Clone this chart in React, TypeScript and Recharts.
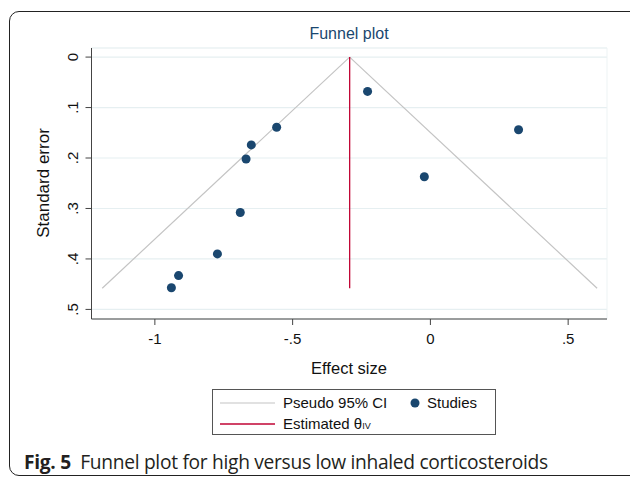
import React from 'react';
import { ScatterChart, Scatter, XAxis, YAxis, CartesianGrid, ReferenceLine, ReferenceArea } from 'recharts';

// study estimates (effect size, standard error)
const effectSizes = [-0.228, 0.32, -0.022, -0.558, -0.65, -0.669, -0.69, -0.773, -0.914, -0.94];
const standardErrors = [0.068, 0.144, 0.237, 0.139, 0.174, 0.202, 0.308, 0.39, 0.433, 0.457];

// pooled estimate and funnel limits
const thetaIV = -0.293;
const seMax = 0.458;
const funnelLeft = [{ x: -1.191, y: seMax }, { x: thetaIV, y: 0 }];
const funnelRight = [{ x: thetaIV, y: 0 }, { x: 0.605, y: seMax }];

const xTicks = [-1, -0.5, 0, 0.5];
const yTicks = [0, 0.1, 0.2, 0.3, 0.4, 0.5];
const xDomain = [-1.23, 0.641];
const yDomain = [-0.018, 0.519];

const studies = effectSizes.map((x, i) => ({ x, y: standardErrors[i] }));

const NAVY = '#1a476f';
const CRANBERRY = '#c10534';
const CI_GRAY = '#c4c4c4';
const FONT = '"Liberation Sans", Arial, sans-serif';

// stata style labels: .5 instead of 0.5
const fmt = (v: number) => (v === 0 ? '0' : String(v).replace(/^(-?)0\./, '$1.'));

const YTick = ({ x, y, payload }: any) => {
  const cx = x - 11;
  return (
    <text
      x={cx}
      y={y}
      transform={`rotate(-90, ${cx}, ${y})`}
      textAnchor="middle"
      dominantBaseline="central"
      fontSize={15}
      fontFamily={FONT}
      fill="#111"
    >
      {fmt(payload.value)}
    </text>
  );
};

export default function App() {
  return (
    <div
      style={{
        position: 'absolute',
        left: 0,
        top: 0,
        width: 630,
        height: 478,
        overflow: 'hidden',
        background: '#fff',
        fontFamily: FONT,
      }}
    >
      {/* figure frame */}
      <div
        style={{
          position: 'absolute',
          left: 9,
          top: 11,
          width: 640,
          height: 465,
          border: '1.5px solid #222',
          borderRadius: 10,
          boxSizing: 'border-box',
        }}
      />

      <ScatterChart width={630} height={478} margin={{ top: 48, right: 23, left: 31.5, bottom: 129 }}>
        <ReferenceArea
          x1={xDomain[0]}
          x2={xDomain[1]}
          y1={yDomain[0]}
          y2={yDomain[1]}
          fill="none"
          stroke="#edf3f4"
          ifOverflow="visible"
        />
        <CartesianGrid vertical={false} stroke="#e6eff1" strokeWidth={1.2} />
        <XAxis
          type="number"
          dataKey="x"
          domain={xDomain}
          ticks={xTicks}
          allowDataOverflow
          tickFormatter={fmt}
          height={30}
          tickSize={6}
          tickMargin={8}
          stroke="#444"
          tick={{ fontSize: 15, fill: '#111', fontFamily: FONT }}
        />
        <YAxis
          type="number"
          dataKey="y"
          reversed
          domain={yDomain}
          ticks={yTicks}
          allowDataOverflow
          width={60}
          tickSize={6}
          stroke="#444"
          tick={<YTick />}
        />
        <ReferenceLine segment={funnelLeft} stroke={CI_GRAY} strokeWidth={1.2} ifOverflow="visible" />
        <ReferenceLine segment={funnelRight} stroke={CI_GRAY} strokeWidth={1.2} ifOverflow="visible" />
        <ReferenceLine
          segment={[{ x: thetaIV, y: 0 }, { x: thetaIV, y: seMax }]}
          stroke={CRANBERRY}
          strokeWidth={1.3}
          ifOverflow="visible"
        />
        <Scatter data={studies} fill={NAVY} isAnimationActive={false} />
      </ScatterChart>

      {/* title and axis titles */}
      <div style={{ position: 'absolute', left: 0, width: 698, top: 25, textAlign: 'center', fontSize: 16, color: NAVY }}>
        Funnel plot
      </div>
      <div
        style={{
          position: 'absolute',
          left: 44,
          top: 183,
          transform: 'translate(-50%, -50%) rotate(-90deg)',
          whiteSpace: 'nowrap',
          fontSize: 17,
          color: '#111',
        }}
      >
        Standard error
      </div>
      <div style={{ position: 'absolute', left: 0, width: 698, top: 359, textAlign: 'center', fontSize: 16.5, color: '#111' }}>
        Effect size
      </div>

      {/* legend */}
      <div
        style={{
          position: 'absolute',
          left: 212,
          top: 389,
          width: 284,
          height: 46,
          border: '1px solid #555',
          boxSizing: 'border-box',
          fontSize: 15,
          color: '#111',
        }}
      >
        <svg width={284} height={46} style={{ position: 'absolute', left: 0, top: 0 }}>
          <line x1={7} x2={62} y1={13} y2={13} stroke={CI_GRAY} strokeWidth={1.2} />
          <line x1={7} x2={62} y1={34} y2={34} stroke={CRANBERRY} strokeWidth={1.3} />
          <circle cx={202} cy={13} r={4.5} fill={NAVY} />
        </svg>
        <div style={{ position: 'absolute', left: 70, top: 4, lineHeight: '17px' }}>Pseudo 95% CI</div>
        <div style={{ position: 'absolute', left: 214, top: 4, lineHeight: '17px' }}>Studies</div>
        <div style={{ position: 'absolute', left: 70, top: 25, lineHeight: '17px' }}>
          Estimated θ<span style={{ fontSize: 9 }}>IV</span>
        </div>
      </div>

      {/* figure caption */}
      <div
        style={{
          position: 'absolute',
          left: 24,
          top: 449,
          fontFamily: '"Open Sans", "Noto Sans", sans-serif',
          fontSize: 19.2,
          lineHeight: '26px',
          color: '#231f20',
          whiteSpace: 'nowrap',
          letterSpacing: -0.3,
        }}
      >
        <b>Fig. 5</b>&nbsp;&nbsp;Funnel plot for high versus low inhaled corticosteroids
      </div>
    </div>
  );
}
